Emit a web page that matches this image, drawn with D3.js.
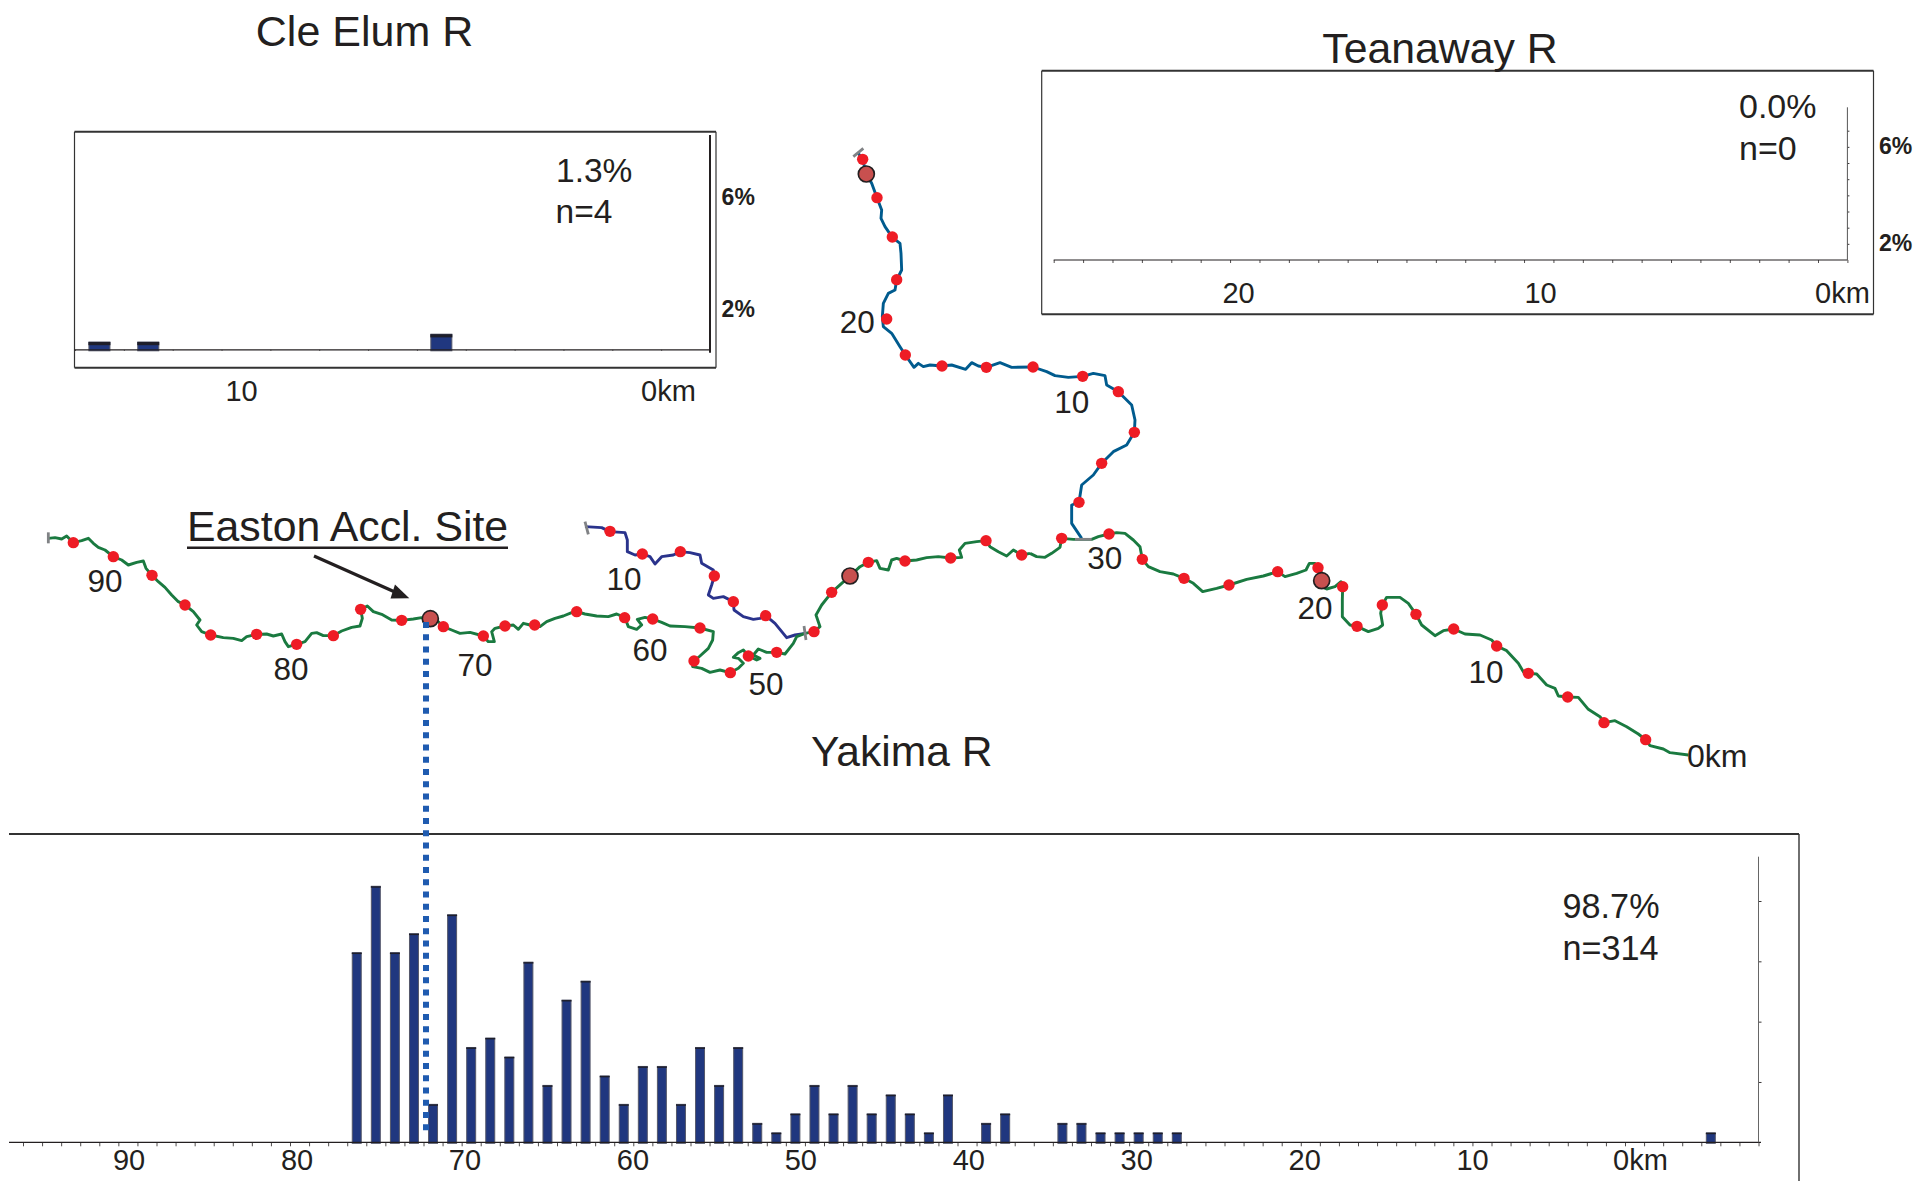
<!DOCTYPE html>
<html><head><meta charset="utf-8">
<style>html,body{margin:0;padding:0;background:#fff}svg{display:block}text{font-family:"Liberation Sans",Arial,sans-serif;fill:#231f20}</style>
<script src="https://cdn.jsdelivr.net/npm/d3@7/dist/d3.min.js"></script></head>
<body><svg id="c" width="1916" height="1181"></svg>
<script>
// ---------- histogram data (fish counts per river-distance bin) ----------
const yakimaBins = [17,18,19,20,21,22,23,24,25,26,27,28,29,30,31,32,33,34,35,36,37,38,39,40,41,42,43,44,45,46,47,48,50,51,54,55,56,57,58,59,60,88];
const yakimaCounts = [20,27,20,22,4,24,10,11,9,19,6,15,17,7,4,8,8,4,10,6,10,2,1,3,6,3,6,3,5,3,1,5,2,3,2,2,1,1,1,1,1,1];
const cleElumBins = [0,1,7];
const cleElumCounts = [1,1,2];
const teanawayBins = [];
const teanawayCounts = [];
const yakimaKmTicks = [90,80,70,60,50,40,30,20,10,0];
const cleElumKmTicks = [10,0];
const teanawayKmTicks = [20,10,0];

// ---------- river traces, in map tiles at 3 units per map pixel ----------
const yakimaTileA = [[55,115],[75,113],[95,117],[110,108],[130,128],[155,122],[175,115],[190,130],[205,142],[225,150],[250,170],[275,180],[295,195],[320,187],[340,183],[348,205],[366,226],[385,245],[405,262],[425,285],[445,305],[465,315],[490,335],[510,360],[500,375],[515,395],[542,405],[580,413],[610,415],[635,422],[650,410],[680,403],[710,402],[730,408],[755,402],[765,425],[775,440],[800,433],[825,425],[845,400],[860,398],[880,407],[910,407],[935,393],[965,382],[990,378],[997,355],[992,328],[1012,318],[1030,335],[1055,343],[1085,360],[1115,361],[1150,357],[1175,353],[1200,357],[1225,365],[1240,380],[1265,390],[1290,400],[1320,397],[1360,408],[1375,425],[1393,425],[1385,395],[1395,385],[1425,378],[1450,375],[1465,388],[1480,370],[1500,375]];
const yakimaTileB = [[0,375],[30,380],[50,365],[75,355],[100,348],[125,338],[140,335],[165,342],[200,348],[235,350],[260,342],[285,353],[295,380],[320,388],[335,375],[322,358],[345,352],[368,357],[395,367],[420,378],[465,380],[510,384],[550,395],[548,420],[535,445],[510,468],[492,483],[488,500],[515,505],[540,517],[570,510],[600,518],[625,505],[640,490],[625,475],[610,472],[625,458],[640,450],[655,468],[680,480],[690,475],[670,465],[685,447],[710,457],[740,457],[765,462],[790,430],[800,410],[825,400],[852,395],[870,380],[858,345],[875,315],[905,277],[935,250],[960,228],[990,200],[1015,187],[1040,182],[1050,205],[1075,210],[1085,180],[1100,175],[1125,183],[1160,180],[1190,173],[1225,170],[1262,174],[1295,172],[1288,150],[1305,130],[1340,125],[1368,122],[1380,140],[1405,155],[1430,168],[1450,150],[1475,165],[1500,160]];
const yakimaTileC = [[0,160],[20,170],[45,172],[65,160],[90,142],[95,115],[130,118],[185,118],[205,110],[237,102],[260,98],[285,100],[310,120],[330,140],[337,178],[355,200],[390,215],[430,222],[462,235],[490,250],[518,275],[560,265],[597,255],[650,238],[700,228],[743,215],[765,230],[800,220],[828,210],[838,190],[855,190],[864,203],[880,225],[875,260],[890,267],[915,260],[933,245],[938,262],[937,300],[937,350],[960,375],[981,379],[1015,395],[1045,385],[1058,375],[1052,340],[1057,315],[1070,292],[1110,292],[1135,310],[1158,343],[1175,375],[1215,407],[1240,392],[1271,387],[1305,402],[1350,405],[1385,420],[1400,438],[1430,452],[1465,490],[1480,515],[1495,520]];
const yakimaTileD = [[388,220],[410,222],[440,255],[465,265],[475,288],[503,291],[535,292],[565,328],[600,350],[612,368],[645,362],[680,380],[715,402],[737,419],[750,437],[790,447],[810,458],[865,465]];
const cleElumTile = [[165,80],[215,83],[240,95],[285,98],[292,120],[292,155],[315,165],[337,162],[360,170],[375,192],[395,170],[430,165],[451,155],[480,158],[510,165],[515,190],[550,210],[553,228],[545,255],[535,285],[550,295],[580,290],[610,305],[612,330],[640,350],[670,358],[690,355],[707,347],[735,370],[770,413],[795,405],[825,400]];
const teanawayTile = [[115,70],[128,88],[139,132],[155,160],[171,203],[185,240],[183,265],[195,290],[217,322],[240,340],[243,370],[245,420],[230,450],[225,480],[205,490],[190,520],[187,560],[190,590],[215,610],[240,650],[256,675],[282,712],[295,700],[310,710],[330,705],[366,708],[395,705],[437,718],[455,698],[475,708],[499,712],[540,698],[575,712],[639,711],[680,725],[705,737],[745,742],[788,739],[820,730],[855,737],[860,765],[895,785],[935,825],[945,870],[943,907],[920,945],[880,965],[845,1000],[820,1035],[785,1065],[777,1117],[755,1125],[755,1180],[785,1225]];
// survey sites (red)
const sitesTileA = [[130,128],[250,170],[366,226],[465,315],[542,405],[680,403],[800,433],[910,407],[992,328],[1115,361],[1240,380],[1360,408],[1425,378]];
const sitesTileB = [[14,375],[140,335],[284,353],[368,357],[510,384],[492,483],[601,518],[655,468],[740,457],[852,395],[905,277],[1015,187],[1125,183],[1262,174],[1368,122],[1475,165],[240,94],[337,162],[451,155],[553,228],[610,305],[707,347]];
const sitesTileC = [[95,115],[237,102],[337,178],[462,235],[597,255],[743,215],[864,203],[938,260],[981,379],[1057,315],[1158,343],[1271,387],[1400,438],[1495,520]];
const sitesTileD = [[503,291],[612,368],[737,419]];
const sitesTileT = [[128,88],[171,203],[217,321],[230,449],[200,567],[256,675],[366,708],[499,712],[639,711],[788,739],[895,785],[943,907],[845,1000],[777,1117]];
// acclimation sites (large)
const acclA = [[1201,356]], acclB = [[960,228]], acclC = [[875,242]], acclT = [[139,132]];
const tileOrigins = {A:[30,500],B:[530,500],C:[1030,500],D:[1400,600],T:[820,130]};

const svg = d3.select("#c");
const ink = "#231f20", barFill = "#20377f", barEdge = "#55586a";
const mapX = d3.scaleLinear().domain([0,3]).range([0,1]);
const mapY = d3.scaleLinear().domain([0,3]).range([0,1]);
const tile = (pts,k) => pts.map(([x,y]) => [tileOrigins[k][0]+mapX(x), tileOrigins[k][1]+mapY(y)]);
const line = d3.line().curve(d3.curveLinear);

function label(x,y,t,size,opts={}){
  return svg.append("text").attr("x",x).attr("y",y).attr("font-size",size)
    .attr("text-anchor",opts.anchor||"middle").attr("font-weight",opts.weight||"normal").text(t);
}

function panel(cfg){
  const g = svg.append("g");
  const x = d3.scaleLinear().domain([0,cfg.nBins]).range([cfg.x0,cfg.x1]);
  const y = d3.scaleLinear().domain([0,cfg.countTop]).range([cfg.base,cfg.countTopY]);
  const pct = d3.scaleLinear().domain([0,cfg.pctTop]).range([cfg.base,cfg.pctTopY]);
  const step = x(1)-x(0);
  const bw = step*cfg.barFrac;
  g.selectAll("rect.b").data(cfg.bins.map((b,i)=>({b,c:cfg.counts[i]}))).join("rect").attr("class","b")
    .attr("x",d=>x(d.b+0.5)-bw/2).attr("width",bw)
    .attr("y",d=>y(d.c)).attr("height",d=>cfg.base+1-y(d.c))
    .attr("fill",barFill).attr("stroke",barEdge).attr("stroke-width",1);
  g.selectAll("line.top").data(cfg.bins.map((b,i)=>({b,c:cfg.counts[i]}))).join("line").attr("class","top")
    .attr("x1",d=>x(d.b+0.5)-bw/2-0.5).attr("x2",d=>x(d.b+0.5)+bw/2+0.5)
    .attr("y1",d=>y(d.c)+cfg.topW/2).attr("y2",d=>y(d.c)+cfg.topW/2)
    .attr("stroke","#1e1e2a").attr("stroke-width",cfg.topW);
  // x axis: bin-edge ticks
  const xa = g.append("g").attr("transform",`translate(0,${cfg.base})`)
    .call(d3.axisBottom(x).tickValues(d3.range(0,cfg.nBins+1)).tickSize(cfg.tickLen).tickFormat(""));
  xa.select(".domain").remove();
  xa.selectAll("line").attr("stroke",ink).attr("stroke-width",0.8);
  g.append("line").attr("x1",cfg.axL).attr("x2",cfg.axR).attr("y1",cfg.base).attr("y2",cfg.base).attr("stroke",ink).attr("stroke-width",cfg.axW);
  // y axis
  const ya = g.append("g").attr("transform",`translate(${cfg.x1},0)`)
    .call(d3.axisRight(pct).tickValues(cfg.pctTicks).tickSize(cfg.yTickLen).tickFormat(""));
  ya.select(".domain").remove();
  ya.selectAll("line").attr("stroke",ink).attr("stroke-width",0.9);
  g.append("line").attr("x1",cfg.x1).attr("x2",cfg.x1).attr("y1",cfg.yAxTop).attr("y2",cfg.yAxBot).attr("stroke",cfg.yColor).attr("stroke-width",cfg.yW);
  // km labels
  const km = d3.scaleLinear().domain(cfg.kmDomain).range(cfg.kmRange);
  const ka = g.append("g").attr("transform",`translate(0,${cfg.labelY})`)
    .call(d3.axisBottom(km).tickValues(cfg.kmTicks).tickSize(0).tickPadding(0).tickFormat(d=>d===0?"0km":d));
  ka.select(".domain").remove();
  ka.selectAll("text").attr("dy",0).attr("y",0).attr("font-size",29).attr("font-family","Liberation Sans").attr("fill",ink).style("fill",ink);
}

// frames
function frame(l,r,t,b){
  svg.append("line").attr("x1",l).attr("x2",r).attr("y1",t).attr("y2",t).attr("stroke","#333").attr("stroke-width",2);
  svg.append("line").attr("x1",l).attr("x2",l).attr("y1",t).attr("y2",b).attr("stroke","#333").attr("stroke-width",1.2);
  svg.append("line").attr("x1",r).attr("x2",r).attr("y1",t).attr("y2",b).attr("stroke","#333").attr("stroke-width",1.2);
  svg.append("line").attr("x1",l).attr("x2",r).attr("y1",b).attr("y2",b).attr("stroke","#333").attr("stroke-width",2);
}
frame(74.5,716,131.7,367.7);
frame(1041.7,1873.5,70.7,314.3);
svg.append("line").attr("x1",9).attr("x2",1799).attr("y1",834).attr("y2",834).attr("stroke","#333").attr("stroke-width",2);
svg.append("line").attr("x1",1799).attr("x2",1799).attr("y1",834).attr("y2",1181).attr("stroke","#333").attr("stroke-width",1.4);

// Cle Elum inset
panel({bins:cleElumBins,counts:cleElumCounts,nBins:13,x0:75,x1:710,base:349.8,countTop:2,countTopY:334.2,
  pctTop:8,pctTopY:171.7,pctTicks:[2,4,6,8],barFrac:0.43,topW:3.2,tickLen:1,yTickLen:1,axL:74.5,axR:710,axW:1.3,
  yAxTop:135,yAxBot:352.7,yColor:ink,yW:2,kmDomain:[0,10],kmRange:[668,241],kmTicks:cleElumKmTicks,labelY:400.7});
// Teanaway inset
panel({bins:teanawayBins,counts:teanawayCounts,nBins:27,x0:1053.7,x1:1847.4,base:260,countTop:2,countTopY:240,
  pctTop:8,pctTopY:130.7,pctTicks:[1,2,3,4,5,6,7,8],barFrac:0.43,topW:2,tickLen:3,yTickLen:2,axL:1053.7,axR:1847.4,axW:1.2,
  yAxTop:107.3,yAxBot:260,yColor:"#555",yW:1,kmDomain:[0,20],kmRange:[1842,1238],kmTicks:teanawayKmTicks,labelY:303.3});
// Yakima main histogram
panel({bins:yakimaBins,counts:yakimaCounts,nBins:91,x0:23,x1:1758.5,base:1142.3,countTop:27,countTopY:886.3,
  pctTop:8,pctTopY:901,pctTicks:[2,4,6,8],barFrac:0.47,topW:1.4,tickLen:4,yTickLen:3,axL:9,axR:1761,axW:1.2,
  yAxTop:856.7,yAxBot:1142.3,yColor:"#666",yW:1,kmDomain:[0,90],kmRange:[1640,128.6],kmTicks:yakimaKmTicks,labelY:1170});

// Rivers
const riverW = 2.9;
[[cleElumTile,"B","#2a338c"],[teanawayTile,"T","#005b8e"]].forEach(([p,k,col])=>{
  svg.append("path").attr("d",line(tile(p,k))).attr("fill","none").attr("stroke",col).attr("stroke-width",riverW).attr("stroke-linejoin","round");
});
[[yakimaTileA,"A"],[yakimaTileB,"B"],[yakimaTileC,"C"],[yakimaTileD,"D"]].forEach(([p,k])=>{
  svg.append("path").attr("d",line(tile(p,k))).attr("fill","none").attr("stroke","#1a7a40").attr("stroke-width",riverW).attr("stroke-linejoin","round");
});
// river end bars
const endBars = [[[55,97],[55,130],"A"],[[165,65],[175,103],"B"],[[822,378],[828,420],"B"],[[100,80],[130,55],"T"],[[765,1228],[815,1228],"T"]];
endBars.forEach(([a,b,k])=>{
  const [p,q]=tile([a,b],k);
  svg.append("path").attr("d",line([p,q])).attr("stroke","#808285").attr("stroke-width",2.8).attr("fill","none");
});
// sites
[[sitesTileA,"A"],[sitesTileB,"B"],[sitesTileC,"C"],[sitesTileD,"D"],[sitesTileT,"T"]].forEach(([p,k])=>{
  svg.append("g").selectAll("circle").data(tile(p,k)).join("circle")
    .attr("cx",d=>d[0]).attr("cy",d=>d[1]).attr("r",5.7).attr("fill","#ee1c25");
});
[[acclA,"A"],[acclB,"B"],[acclC,"C"],[acclT,"T"]].forEach(([p,k])=>{
  svg.append("g").selectAll("circle").data(tile(p,k)).join("circle")
    .attr("cx",d=>d[0]).attr("cy",d=>d[1]).attr("r",8).attr("fill","#c8504f").attr("stroke",ink).attr("stroke-width",1.7);
});
// Easton release line
svg.append("line").attr("x1",426).attr("x2",426).attr("y1",622).attr("y2",1132)
  .attr("stroke","#1f5bb0").attr("stroke-width",6).attr("stroke-dasharray","6 6.25");
// Arrow
svg.append("line").attr("x1",314).attr("y1",556).attr("x2",396).attr("y2",592.5).attr("stroke",ink).attr("stroke-width",3.2);
svg.append("path").attr("d",line([[409.3,598.3],[395,584.5],[390.5,598.5]])+"Z").attr("fill",ink);

// Titles
label(364.5,45.7,"Cle Elum R",43);
label(1440,63,"Teanaway R",42.8);
label(901.7,765.7,"Yakima R",42.6);
label(187,540.7,"Easton Accl. Site",42.8,{anchor:"start"});
svg.append("line").attr("x1",187).attr("x2",508).attr("y1",547.7).attr("y2",547.7).attr("stroke",ink).attr("stroke-width",2.6);
// Panel stats
label(556,181.7,"1.3%",33.5,{anchor:"start"});
label(555.5,223,"n=4",33.5,{anchor:"start"});
label(1739,118,"0.0%",34,{anchor:"start"});
label(1739,160,"n=0",34,{anchor:"start"});
label(1562.6,918,"98.7%",34.2,{anchor:"start"});
label(1562.6,960,"n=314",34.2,{anchor:"start"});
label(721.6,205,"6%",23,{anchor:"start",weight:"bold"});
label(721.6,316.7,"2%",23,{anchor:"start",weight:"bold"});
label(1879,154,"6%",23,{anchor:"start",weight:"bold"});
label(1879,250.5,"2%",23,{anchor:"start",weight:"bold"});
// River km labels
const riverKmLabels = [["90",105,591.7],["80",291,680],["70",475,676],["60",650,660.7],["50",766,694.5],["30",1104.7,569.3],["20",1315,619],["10",1486,682.7],["10",624,590],["20",857.3,332.5],["10",1071.7,412.7]];
riverKmLabels.forEach(([t,x,y])=>label(x,y,t,31.5));
label(1687,766.7,"0km",32,{anchor:"start"});
</script></body></html>
